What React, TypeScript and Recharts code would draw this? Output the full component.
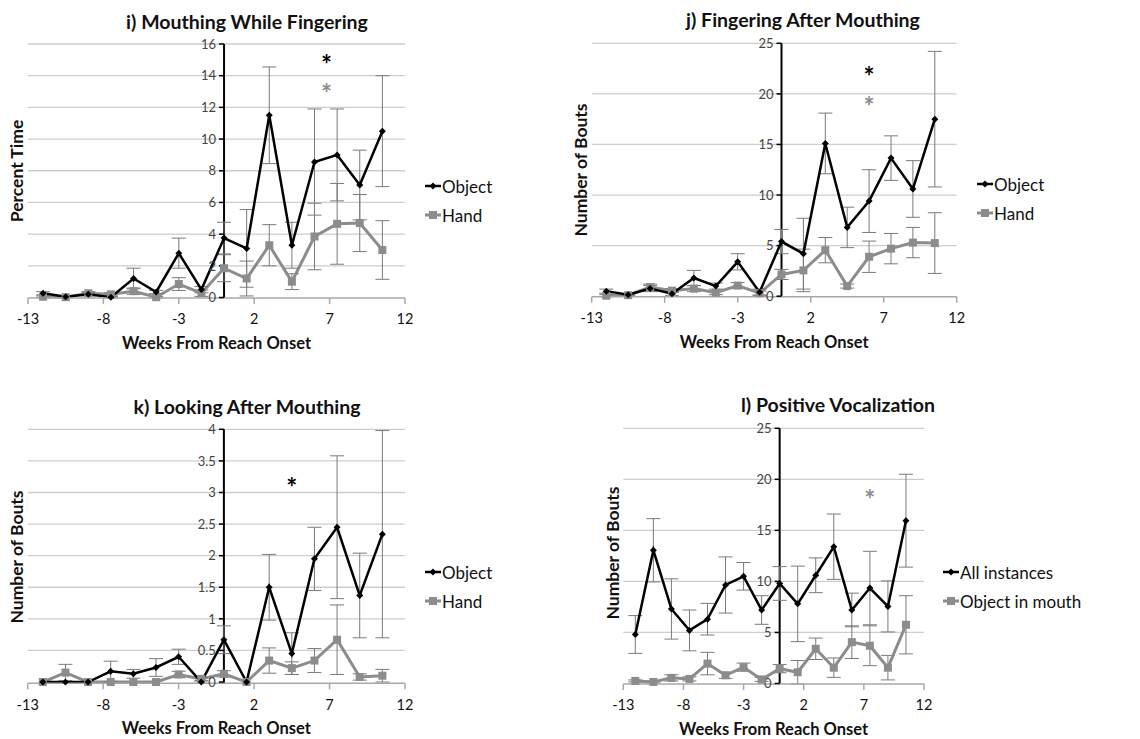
import React from "react";
import {
  LineChart,
  Line,
  XAxis,
  YAxis,
  ErrorBar,
  ReferenceLine,
  ReferenceDot,
} from "recharts";

const FONT = "Lato, 'Open Sans', sans-serif";
const BLACK = "#000000";
const GRAY = "#8c8c8c";
const ERR = "#7a7a7a";

const weeks = [-12, -10.5, -9, -7.5, -6, -4.5, -3, -1.5, 0, 1.5, 3, 4.5, 6, 7.5, 9, 10.5];
const xTicks = [-13, -8, -3, 2, 7, 12];

// i) mouthing while fingering (percent time)
const mwfObject = [0.27, 0.05, 0.2, 0.02, 1.2, 0.35, 2.8, 0.5, 3.75, 3.1, 11.5, 3.3, 8.55, 9.0, 7.1, 10.5];
const mwfObjectErr = [0.1, 0.05, 0.1, 0.05, 0.65, 0.1, 0.95, 0.2, 1.0, 2.45, 3.05, 1.45, 3.35, 2.9, 2.2, 3.5];
const mwfHand = [0.05, 0.02, 0.27, 0.2, 0.4, 0.02, 0.85, 0.27, 1.85, 1.2, 3.3, 1.0, 3.85, 4.65, 4.7, 3.0];
const mwfHandErr = [0.05, 0.05, 0.1, 0.1, 0.2, 0.05, 0.4, 0.2, 0.85, 1.1, 1.3, 0.5, 2.1, 2.55, 1.8, 1.85];
const mwfTicks = [0, 2, 4, 6, 8, 10, 12, 14, 16];

// j) fingering after mouthing
const famObject = [0.5, 0.15, 0.75, 0.25, 1.8, 1.0, 3.4, 0.4, 5.4, 4.2, 15.1, 6.8, 9.4, 13.65, 10.6, 17.5];
const famObjectErr = [0.2, 0.1, 0.3, 0.2, 0.75, 0.3, 0.8, 0.3, 1.2, 3.5, 3.0, 2.0, 3.1, 2.2, 2.8, 6.7];
const famHand = [0.05, 0.1, 0.9, 0.55, 0.75, 0.35, 1.05, 0.3, 2.15, 2.55, 4.55, 1.0, 3.9, 4.7, 5.3, 5.25];
const famHandErr = [0.1, 0.1, 0.3, 0.2, 0.3, 0.2, 0.3, 0.2, 0.5, 2.1, 1.25, 0.2, 1.55, 1.5, 1.5, 3.0];
const boutTicks = [0, 5, 10, 15, 20, 25];

// k) looking after mouthing
const lamObject = [0, 0, 0, 0.17, 0.13, 0.23, 0.4, 0, 0.67, 0, 1.5, 0.45, 1.95, 2.45, 1.37, 2.34];
const lamObjectErr = [0, 0, 0, 0.16, 0.07, 0.14, 0.12, 0.02, 0.22, 0, 0.52, 0.33, 0.5, 1.13, 0.67, 1.64];
const lamHand = [0, 0.15, 0, 0, 0, 0, 0.12, 0.05, 0.13, 0, 0.34, 0.22, 0.34, 0.67, 0.08, 0.1];
const lamHandErr = [0, 0.13, 0, 0, 0, 0, 0.05, 0.03, 0.05, 0, 0.2, 0.1, 0.19, 0.55, 0.05, 0.1];
const lamTicks = [0, 0.5, 1, 1.5, 2, 2.5, 3, 3.5, 4];

// l) positive vocalization
const pvAll = [4.8, 13.05, 7.3, 5.2, 6.3, 9.65, 10.5, 7.2, 9.8, 7.8, 10.6, 13.4, 7.2, 9.35, 7.55, 15.95];
const pvAllErr = [1.85, 3.1, 2.95, 2.0, 1.55, 2.75, 1.35, 1.4, 1.65, 3.7, 1.7, 3.2, 1.65, 3.6, 2.5, 4.55];
const pvMouth = [0.25, 0.15, 0.55, 0.45, 1.95, 0.8, 1.6, 0.4, 1.45, 1.1, 3.4, 1.55, 4.05, 3.7, 1.55, 5.75];
const pvMouthErr = [0.1, 0.1, 0.3, 0.2, 1.1, 0.3, 0.4, 0.2, 0.4, 1.15, 1.05, 0.95, 1.6, 1.95, 1.2, 2.85];

// significance stars: [week, value]
const mwfStars = [[6.8, 15.0], [6.8, 13.15]];
const famStars = [[6, 22.2], [6, 19.25]];
const lamStars = [[4.5, 3.15]];
const pvStars = [[7.5, 18.5]];

const build = (a: number[], aErr: number[], b: number[], bErr: number[]) =>
  weeks.map((w, i) => ({ week: w, a: a[i], aErr: aErr[i], b: b[i], bErr: bErr[i] }));

const diamondDot = (props: any) => {
  const { cx, cy, index } = props;
  if (cx == null || cy == null) return <g key={`dd-${index}`} />;
  const s = 3.5;
  return (
    <polygon
      key={`dd-${index}`}
      points={`${cx},${cy - s} ${cx + s},${cy} ${cx},${cy + s} ${cx - s},${cy}`}
      fill={BLACK}
    />
  );
};

const squareDot = (props: any) => {
  const { cx, cy, index } = props;
  if (cx == null || cy == null) return <g key={`sd-${index}`} />;
  return <rect key={`sd-${index}`} x={cx - 4} y={cy - 4} width={8} height={8} fill={GRAY} />;
};

type PanelProps = {
  left: number;
  top: number;
  width: number;
  height: number;
  plot: { l: number; r: number; t: number; b: number };
  title: string;
  titleX: number;
  titleY: number;
  yLabel: string;
  yLabelX: number;
  yLabelY: number;
  data: any[];
  yTicks: number[];
  stars: number[][];
  starColors: string[];
  names: string[];
  legendX: number;
  legendY: number;
};

function Panel(p: PanelProps) {
  const yMax = p.yTicks[p.yTicks.length - 1];
  const xAxisH = 40;
  return (
    <div style={{ position: "absolute", left: p.left, top: p.top, width: p.width, height: p.height }}>
      <div
        style={{
          position: "absolute",
          left: p.titleX - 200,
          width: 400,
          top: p.titleY - 13,
          textAlign: "center",
          fontFamily: FONT,
          fontWeight: 700,
          fontSize: 19.5,
          lineHeight: "26px",
          color: "#111",
        }}
      >
        {p.title}
      </div>
      <div
        style={{
          position: "absolute",
          left: p.yLabelX - 100,
          top: p.yLabelY - 12,
          width: 200,
          textAlign: "center",
          transform: "rotate(-90deg)",
          fontFamily: FONT,
          fontWeight: 700,
          fontSize: 17.5,
          lineHeight: "24px",
          color: "#111",
        }}
      >
        {p.yLabel}
      </div>
      <div
        style={{
          position: "absolute",
          left: (p.plot.l + p.plot.r) / 2 - 150,
          width: 300,
          top: p.plot.b + 34,
          textAlign: "center",
          fontFamily: FONT,
          fontWeight: 700,
          fontSize: 16.5,
          lineHeight: "22px",
          color: "#111",
        }}
      >
        Weeks From Reach Onset
      </div>
      <LineChart
        width={p.width}
        height={p.height}
        data={p.data}
        margin={{
          top: p.plot.t,
          left: p.plot.l,
          right: p.width - p.plot.r,
          bottom: p.height - p.plot.b - xAxisH,
        }}
        style={{ position: "absolute", left: 0, top: 0 }}
      >
        <XAxis
          type="number"
          dataKey="week"
          domain={[-13, 12]}
          ticks={xTicks}
          interval={0}
          height={xAxisH}
          stroke="#a8a8a8"
          strokeWidth={1.5}
          tickSize={6}
          tickMargin={10}
          tick={{ fontSize: 14.5, fill: "#111", fontFamily: FONT }}
        />
        <YAxis
          type="number"
          domain={[0, yMax]}
          ticks={p.yTicks}
          width={0}
          tick={false}
          axisLine={false}
          tickLine={false}
        />
        {p.yTicks
          .filter((v) => v > 0)
          .map((v) => (
            <ReferenceLine key={`gr-${v}`} y={v} stroke="#cdcdcd" strokeWidth={1.3} />
          ))}
        <ReferenceLine x={0} stroke={BLACK} strokeWidth={2} />
        {p.yTicks.map((v) => (
          <ReferenceDot
            key={`yt-${v}`}
            x={0}
            y={v}
            r={0}
            shape={(s: any) => (
              <g>
                <line x1={s.cx - 5} x2={s.cx} y1={s.cy} y2={s.cy} stroke={BLACK} strokeWidth={1.5} />
                <text
                  x={s.cx - 8}
                  y={s.cy}
                  dy="0.36em"
                  textAnchor="end"
                  fontSize={13}
                  fontFamily={FONT}
                  fill="#444"
                >
                  {String(v)}
                </text>
              </g>
            )}
          />
        ))}
        <Line
          dataKey="b"
          stroke={GRAY}
          strokeWidth={3}
          dot={squareDot}
          activeDot={false}
          isAnimationActive={false}
        >
          <ErrorBar dataKey="bErr" width={7} stroke={ERR} strokeWidth={1} direction="y" />
        </Line>
        <Line
          dataKey="a"
          stroke={BLACK}
          strokeWidth={2.5}
          dot={diamondDot}
          activeDot={false}
          isAnimationActive={false}
        >
          <ErrorBar dataKey="aErr" width={7} stroke={ERR} strokeWidth={1} direction="y" />
        </Line>
        {p.stars.map(([sx, sy], i) => (
          <ReferenceDot
            key={`st-${i}`}
            x={sx}
            y={sy}
            r={0}
            shape={(s: any) => (
              <text
                x={s.cx}
                y={s.cy}
                dy="0.55em"
                textAnchor="middle"
                fontSize={26}
                fontWeight={700}
                fontFamily={FONT}
                fill={p.starColors[i]}
              >
                *
              </text>
            )}
          />
        ))}
      </LineChart>
      {p.names.map((n, i) => (
        <div
          key={n}
          style={{
            position: "absolute",
            left: p.legendX,
            top: p.legendY + i * 29 - 11,
            height: 22,
            display: "flex",
            alignItems: "center",
            fontFamily: FONT,
            fontSize: 17,
            color: "#111",
            whiteSpace: "nowrap",
          }}
        >
          <svg width={16} height={12} style={{ marginRight: 1 }}>
            {i === 0 ? (
              <g>
                <line x1={0} x2={16} y1={6} y2={6} stroke={BLACK} strokeWidth={2.5} />
                <polygon points="8,2.5 11.5,6 8,9.5 4.5,6" fill={BLACK} />
              </g>
            ) : (
              <g>
                <line x1={0} x2={16} y1={6} y2={6} stroke={GRAY} strokeWidth={3} />
                <rect x={4} y={2} width={8} height={8} fill={GRAY} />
              </g>
            )}
          </svg>
          {n}
        </div>
      ))}
    </div>
  );
}

export default function App() {
  return (
    <div style={{ position: "absolute", left: 0, top: 0, width: 1140, height: 739, background: "#fff" }}>
      <Panel
        left={0}
        top={0}
        width={560}
        height={370}
        plot={{ l: 28, r: 405, t: 44, b: 298 }}
        title="i) Mouthing While Fingering"
        titleX={247}
        titleY={22}
        yLabel="Percent Time"
        yLabelX={17}
        yLabelY={171}
        data={build(mwfObject, mwfObjectErr, mwfHand, mwfHandErr)}
        yTicks={mwfTicks}
        stars={mwfStars}
        starColors={[BLACK, GRAY]}
        names={["Object", "Hand"]}
        legendX={425}
        legendY={186}
      />
      <Panel
        left={560}
        top={0}
        width={580}
        height={370}
        plot={{ l: 31.7, r: 396.7, t: 43.3, b: 296.7 }}
        title="j) Fingering After Mouthing"
        titleX={243}
        titleY={20}
        yLabel="Number of Bouts"
        yLabelX={21}
        yLabelY={170}
        data={build(famObject, famObjectErr, famHand, famHandErr)}
        yTicks={boutTicks}
        stars={famStars}
        starColors={[BLACK, GRAY]}
        names={["Object", "Hand"]}
        legendX={417}
        legendY={184}
      />
      <Panel
        left={0}
        top={380}
        width={560}
        height={359}
        plot={{ l: 27.7, r: 405, t: 49.3, b: 303.3 }}
        title="k) Looking After Mouthing"
        titleX={247}
        titleY={27}
        yLabel="Number of Bouts"
        yLabelX={17}
        yLabelY={177}
        data={build(lamObject, lamObjectErr, lamHand, lamHandErr)}
        yTicks={lamTicks}
        stars={lamStars}
        starColors={[BLACK]}
        names={["Object", "Hand"]}
        legendX={425}
        legendY={192}
      />
      <Panel
        left={560}
        top={380}
        width={580}
        height={359}
        plot={{ l: 63.3, r: 364, t: 48.3, b: 304 }}
        title="l) Positive Vocalization"
        titleX={278}
        titleY={25}
        yLabel="Number of Bouts"
        yLabelX={53}
        yLabelY={173}
        data={build(pvAll, pvAllErr, pvMouth, pvMouthErr)}
        yTicks={boutTicks}
        stars={pvStars}
        starColors={[GRAY]}
        names={["All instances", "Object in mouth"]}
        legendX={383}
        legendY={192}
      />
    </div>
  );
}
